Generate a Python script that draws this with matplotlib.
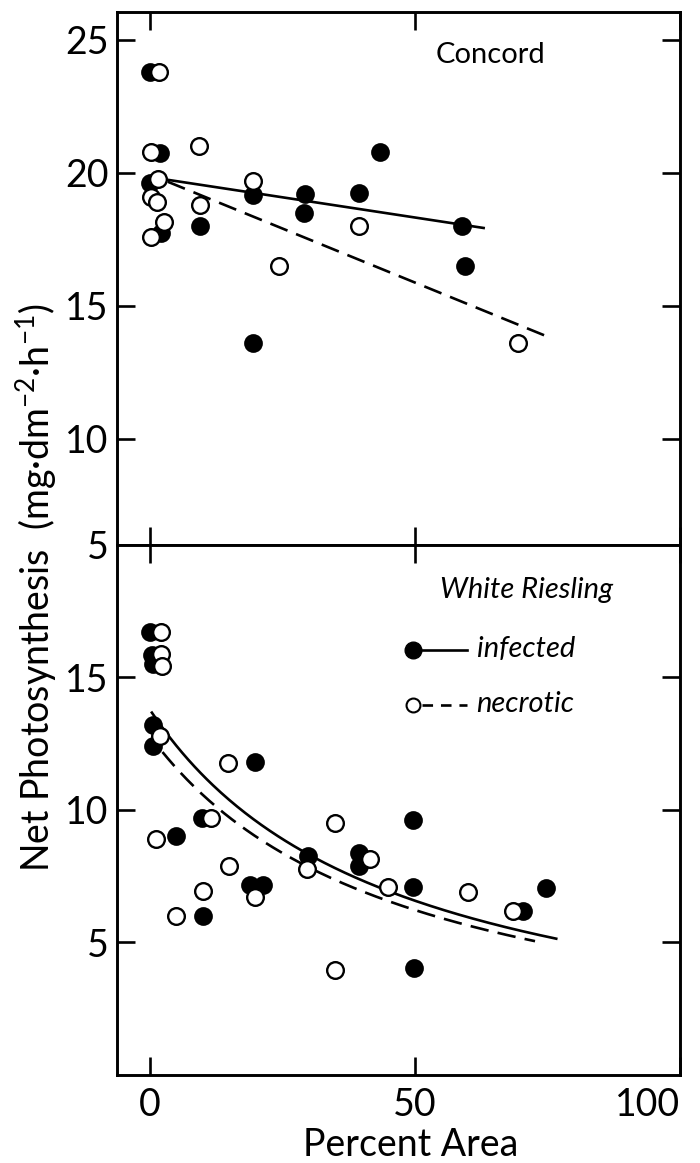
import numpy as np
import matplotlib
matplotlib.use('Agg')
import matplotlib.pyplot as plt

plt.rcParams['font.family'] = ['Lato', 'DejaVu Sans']
plt.rcParams['mathtext.fontset'] = 'custom'
plt.rcParams['mathtext.rm'] = 'Lato'
plt.rcParams['mathtext.it'] = 'Lato:italic'

# Concord (upper panel)
concord_inf_x = [0.0, 2.0, 0.0, 2.2, 9.4, 19.4, 19.4, 29.3, 29.1, 39.5, 43.5, 59.0, 59.4]
concord_inf_y = [23.8, 20.75, 19.6, 17.75, 18.0, 19.15, 13.6, 19.2, 18.5, 19.25, 20.8, 18.0, 16.5]
concord_nec_x = [1.7, 0.3, 9.3, 1.5, 0.3, 1.3, 9.4, 2.6, 0.3, 19.5, 24.4, 39.5, 69.4]
concord_nec_y = [23.8, 20.8, 21.0, 19.75, 19.1, 18.9, 18.8, 18.15, 17.6, 19.7, 16.5, 18.0, 13.6]

# White Riesling (lower panel)
riesling_inf_x = [0.0, 0.4, 0.6, 0.6, 0.6, 5.0, 9.8, 10.0, 19.0, 21.3, 19.9, 29.9,
                  39.5, 39.5, 49.6, 49.6, 49.8, 70.5, 74.8]
riesling_inf_y = [16.7, 15.85, 15.5, 13.2, 12.4, 9.0, 9.7, 6.0, 7.18, 7.18, 11.8, 8.27,
                  8.38, 7.9, 9.62, 7.1, 4.04, 6.17, 7.07]
riesling_nec_x = [2.2, 2.2, 2.4, 1.9, 14.8, 11.6, 35.0, 1.1, 14.9, 10.0, 4.9, 19.9,
                  29.7, 35.0, 41.5, 44.9, 60.0, 68.6]
riesling_nec_y = [16.7, 15.9, 15.45, 12.78, 11.77, 9.7, 9.52, 8.9, 7.9, 6.95, 6.0, 6.7,
                  7.78, 3.95, 8.16, 7.1, 6.92, 6.17]

# fitted lines: Concord y = a + b*x, Riesling y = 1/(p + q*x)
concord_inf_fit = (19.84, -0.0304, 3.4, 63.0)
concord_nec_fit = (19.94, -0.0813, 3.4, 74.6)
riesling_inf_fit = (0.0725, 0.00159, 0.4, 76.7)
riesling_nec_fit = (0.0781, 0.00165, 2.4, 72.7)

fig = plt.figure(figsize=(7, 11.63), dpi=100)
ax1 = fig.add_axes([0.167, 0.5314, 0.804, 0.4583])
ax2 = fig.add_axes([0.167, 0.0757, 0.804, 0.4557])

dash = (0, (7, 3.5))
filled = dict(marker='o', ms=12, mfc='black', mec='black', mew=1.5, ls='none', zorder=3)
hollow = dict(marker='o', ms=12, mfc='white', mec='black', mew=1.7, ls='none', zorder=4)

# upper panel
a, b, x0, x1 = concord_inf_fit
xs = np.array([x0, x1])
ax1.plot(xs, a + b * xs, 'k-', lw=1.9, zorder=2)
a, b, x0, x1 = concord_nec_fit
xs = np.array([x0, x1])
ax1.plot(xs, a + b * xs, color='black', ls=dash, lw=1.9, zorder=2)
ax1.plot(concord_inf_x, concord_inf_y, **filled)
ax1.plot(concord_nec_x, concord_nec_y, **hollow)

# lower panel
p, q, x0, x1 = riesling_inf_fit
xs = np.linspace(x0, x1, 200)
ax2.plot(xs, 1 / (p + q * xs), 'k-', lw=1.9, zorder=2)
p, q, x0, x1 = riesling_nec_fit
xs = np.linspace(x0, x1, 200)
ax2.plot(xs, 1 / (p + q * xs), color='black', ls=dash, lw=1.9, zorder=2)
ax2.plot(riesling_inf_x, riesling_inf_y, **filled)
ax2.plot(riesling_nec_x, riesling_nec_y, **hollow)

for ax in (ax1, ax2):
    ax.set_xlim(-6.2, 100)
    for s in ax.spines.values():
        s.set_linewidth(2.1)
    ax.tick_params(direction='in', length=13, width=1.9, labelsize=27,
                   top=True, right=True, pad=6)

ax1.set_ylim(6.0, 26.05)
ax1.set_yticks([6, 10, 15, 20, 25], ['5', '10', '15', '20', '25'])
ax1.set_xticks([0, 50, 100])
ax1.tick_params(labelbottom=False)

ax2.set_ylim(0, 20)
ax2.set_yticks([5, 10, 15])
xt = ax2.set_xticks([0, 50, 100], ['0', '50', '100'])
xt[-1].label1.set_horizontalalignment('right')
ax2.tick_params(axis='x', pad=9)

ax1.text(0.664, 0.919, 'Concord', transform=ax1.transAxes, fontsize=21,
         ha='center', va='center')
ax2.text(0.728, 0.915, 'White Riesling', transform=ax2.transAxes, fontsize=21,
         style='italic', ha='center', va='center')

# key
ax2.plot([0.526], [0.802], transform=ax2.transAxes, marker='o', ms=12,
         mfc='black', mec='black', clip_on=False)
ax2.plot([0.54, 0.622], [0.802, 0.802], transform=ax2.transAxes, color='black', lw=1.9)
ax2.text(0.639, 0.804, 'infected', transform=ax2.transAxes, fontsize=21,
         style='italic', ha='left', va='center')
ax2.plot([0.526], [0.698], transform=ax2.transAxes, marker='o', ms=10,
         mfc='white', mec='black', mew=1.5)
ax2.plot([0.542, 0.622], [0.698, 0.698], transform=ax2.transAxes, color='black',
         lw=1.9, ls=(0, (4, 3)))
ax2.text(0.639, 0.700, 'necrotic', transform=ax2.transAxes, fontsize=21,
         style='italic', ha='left', va='center')

fig.text(0.052, 0.495, 'Net Photosynthesis  (mg·dm$^{-2}$·h$^{-1}$)', rotation=90,
         fontsize=27, ha='center', va='center')
fig.text(0.586, 0.006, 'Percent Area', fontsize=27, ha='center', va='baseline')

fig.savefig('out.png', dpi=100)
